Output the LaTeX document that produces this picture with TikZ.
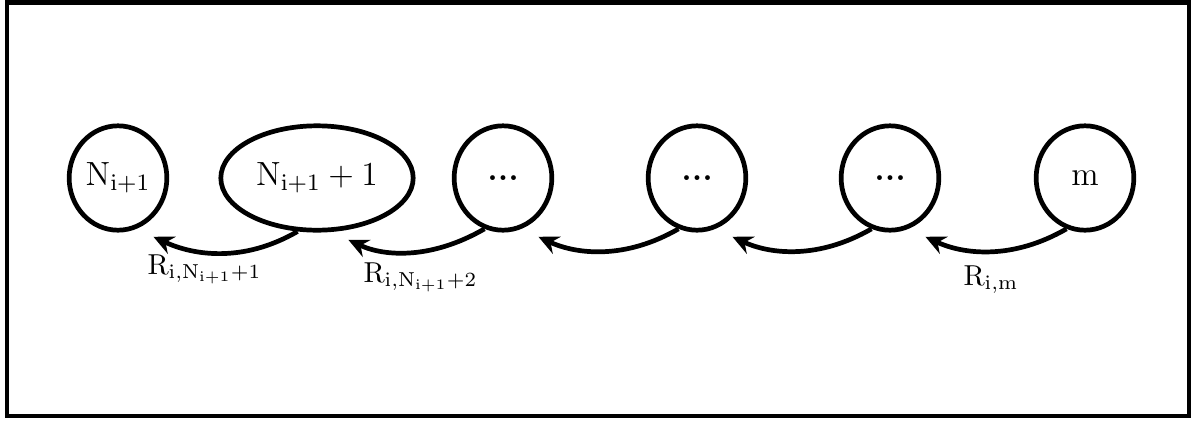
\documentclass[tikz,border=0pt]{standalone}
\usepackage{fix-cm}
\usepackage{amsmath,amssymb}
\usepackage{tikz}
\usetikzlibrary{arrows.meta,shapes.geometric}

\begin{document}
\begin{tikzpicture}[x=0.01341cm,y=0.01341cm,
  state/.style={ellipse,draw,line width=1.8pt,inner sep=0pt,
    minimum width=1.31cm,minimum height=1.40cm,font=\fontsize{12.8}{15}\selectfont},
  flow/.style={line width=1.8pt,-{Stealth[length=0.27cm,width=0.25cm,inset=0.09cm]},
    shorten >=0.25cm},
  rate/.style={anchor=base west,inner sep=0pt,font=\fontsize{11}{13}\selectfont}]
  \useasboundingbox (0,0) rectangle (1193,420);
  \draw[line width=1.8pt] (7,4) rectangle (1189,417.5);
  % states
  \node[state] (A) at (118,242) {$\mathrm{N_{i+1}}$};
  \node[state,minimum width=2.58cm] (B) at (317,242) {$\mathrm{N_{i+1}+1}$};
  \node[state] (C) at (503,242) {\textbf{...}};
  \node[state] (D) at (697,242) {\textbf{...}};
  \node[state] (E) at (890,242) {\textbf{...}};
  \node[state] (F) at (1085,242) {m};
  % transitions
  \draw[flow] (B.-110) to[out=-150,in=-25] (A.-70);
  \draw[flow] (C.-110) to[out=-150,in=-25] (B.-75);
  \draw[flow] (D.-110) to[out=-150,in=-25] (C.-70);
  \draw[flow] (E.-110) to[out=-150,in=-25] (D.-70);
  \draw[flow] (F.-110) to[out=-150,in=-25] (E.-70);
  \node[rate] (RA) at (147,146) {$\mathrm{R_{i,N_{i+1}+1}}$};
  \node[rate] (RB) at (363,138) {$\mathrm{R_{i,N_{i+1}+2}}$};
  \node[rate] (RM) at (963,135) {$\mathrm{R_{i,m}}$};
\end{tikzpicture}
\end{document}
